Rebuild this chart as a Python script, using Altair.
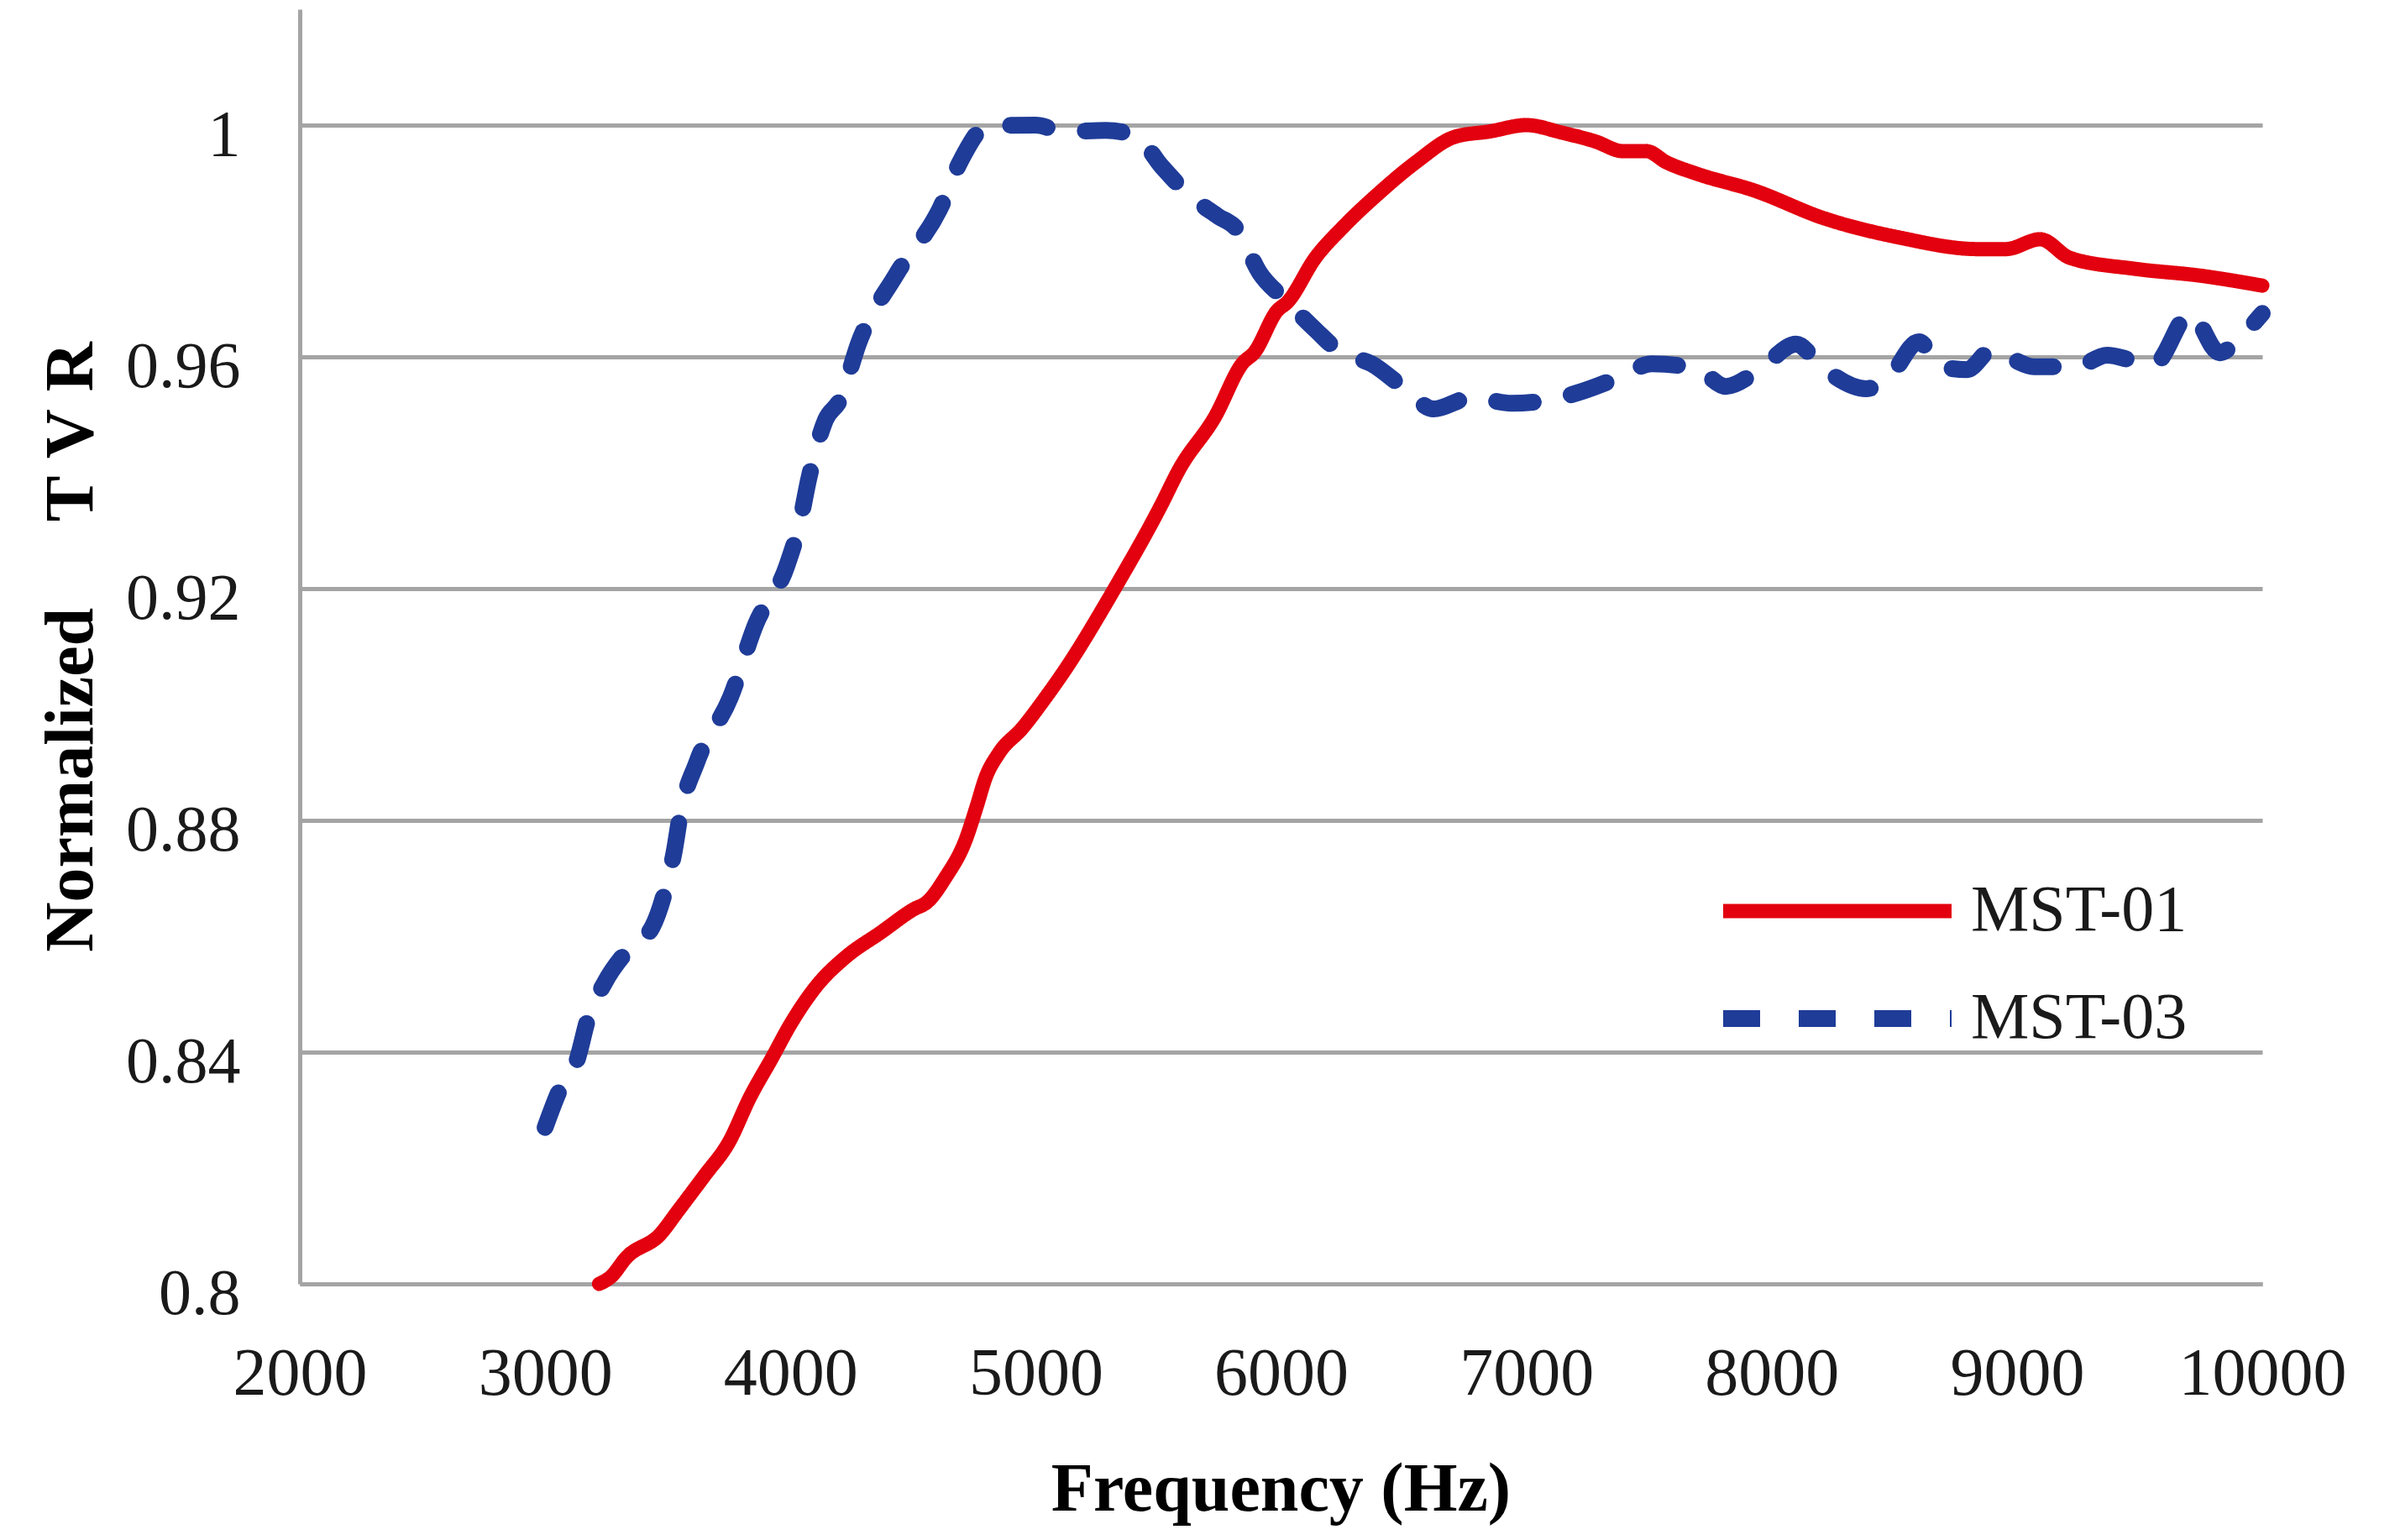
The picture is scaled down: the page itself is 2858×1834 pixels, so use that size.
import altair as alt
import pandas as pd

# ---- data ----
series_names = ["MST-01", "MST-03"]

mst01_freq = [3220, 3270, 3330, 3470, 3540, 3650, 3750, 3835, 3925, 4000, 4110, 4225,
              4370, 4500, 4560, 4630, 4715, 4760, 4795, 4850, 4945, 5035, 5115, 5320,
              5510, 5585, 5730, 5845, 5890, 5985, 6025, 6140, 6255, 6400, 6550, 6710,
              6850, 7000, 7145, 7280, 7395, 7490, 7570, 7695, 7930, 8215, 8520, 8840,
              8955, 9095, 9215, 9480, 9750, 10000]
mst01_tvr = [0.800, 0.8013, 0.8045, 0.8086, 0.8125, 0.8187, 0.8245, 0.8322, 0.839, 0.8448,
             0.8516, 0.8564, 0.8607, 0.8646, 0.866, 0.870, 0.8767, 0.8825, 0.8873, 0.8916,
             0.8959, 0.9009, 0.9057, 0.9199, 0.9343, 0.9406, 0.9496, 0.959, 0.9607, 0.968,
             0.9694, 0.9771, 0.9825, 0.9883, 0.9936, 0.998, 0.9989, 1.0, 0.9987, 0.9972,
             0.9955, 0.9955, 0.9936, 0.9916, 0.9887, 0.9839, 0.9806, 0.9786, 0.9786, 0.9803,
             0.9771, 0.9752, 0.974, 0.9723]

mst03_freq = [3000, 3065, 3130, 3175, 3243, 3335, 3438, 3490, 3527, 3551, 3619, 3756,
              3859, 3986, 4040, 4075, 4143, 4201, 4280, 4431, 4612, 4691, 4807, 5000,
              5115, 5286, 5410, 5513, 5629, 5742, 5821, 5913, 6016, 6142, 6245, 6369,
              6505, 6622, 6779, 6940, 7087, 7224, 7375, 7512, 7693, 7813, 7950, 8100,
              8203, 8385, 8477, 8600, 8693, 8796, 8898, 8977, 9069, 9240, 9367, 9480,
              9559, 9706, 9826, 9915, 10000]
mst03_tvr = [0.827, 0.834, 0.8386, 0.8458, 0.852, 0.8575, 0.8617, 0.868, 0.8748, 0.881,
             0.8901, 0.9013, 0.9139, 0.924, 0.9317, 0.939, 0.9491, 0.9525, 0.9626, 0.9742,
             0.9858, 0.9936, 0.9999, 1.0, 0.9989, 0.9991, 0.9981, 0.9929, 0.9878, 0.9843,
             0.982, 0.9745, 0.9699, 0.9646, 0.9607, 0.9588, 0.9545, 0.951, 0.953, 0.952,
             0.9525, 0.954, 0.9564, 0.9588, 0.958, 0.9549, 0.9578, 0.9622, 0.9583, 0.9545,
             0.9564, 0.9626, 0.9583, 0.9578, 0.9612, 0.9597, 0.9583, 0.9583, 0.9603, 0.9593,
             0.9588, 0.9675, 0.9607, 0.9636, 0.9675]

x_ticks = [2000, 3000, 4000, 5000, 6000, 7000, 8000, 9000, 10000]
y_ticks = [0.8, 0.84, 0.88, 0.92, 0.96, 1.0]

rows = []
for f, v in zip(mst01_freq, mst01_tvr):
    rows.append({"freq": f, "tvr": v, "series": "MST-01"})
for f, v in zip(mst03_freq, mst03_tvr):
    rows.append({"freq": f, "tvr": v, "series": "MST-03"})
df = pd.DataFrame(rows)

FONT = "Liberation Serif"
GRID = "#a4a4a4"
TXT = "#1a1a1a"

legend = alt.Legend(
    title=None, orient="none", legendX=1685, legendY=1010,
    symbolType="stroke", symbolSize=73984, symbolStrokeWidth=22,
    clipHeight=128, rowPadding=0, padding=0,
    labelFont=FONT, labelFontSize=78, labelColor=TXT, labelOffset=13, labelLimit=0,
)

chart = alt.Chart(df).mark_line(
    strokeCap="round", strokeJoin="round", interpolate="monotone"
).encode(
    x=alt.X(
        "freq:Q",
        scale=alt.Scale(domain=[2000, 10000], nice=False, zero=False),
        axis=alt.Axis(
            values=x_ticks, format="d", title="Frequency (Hz)", grid=False,
            ticks=False, tickSize=0, labelPadding=68, labelFlush=False, labelOverlap=False,
            labelLimit=0,
            labelFont=FONT, labelFontSize=80, labelColor=TXT,
            titleFont=FONT, titleFontSize=82, titleFontWeight="bold", titleColor="#000",
            titleX=1168, titleY=269, titleBaseline="alphabetic",
            domainColor=GRID, domainWidth=5,
        ),
    ),
    y=alt.Y(
        "tvr:Q",
        scale=alt.Scale(domain=[0.8, 1.02], nice=False, zero=False),
        axis=alt.Axis(
            values=y_ticks, format=".2~f",
            title="Normalized\u00a0\u00a0\u00a0\u00a0\u00a0T\u00a0V\u00a0R",
            grid=True, gridColor=GRID, gridWidth=5, gridOpacity=1,
            ticks=False, tickSize=0, labelPadding=71, labelOffset=12,
            labelFlush=False, labelOverlap=False, labelLimit=0,
            labelFont=FONT, labelFontSize=78, labelColor=TXT,
            titleFont=FONT, titleFontSize=82, titleFontWeight="bold", titleColor="#000",
            titleX=-248, titleY=759, titleAngle=270, titleAlign="center",
            titleBaseline="alphabetic",
            domainColor=GRID, domainWidth=5,
        ),
    ),
    color=alt.Color(
        "series:N",
        scale=alt.Scale(domain=series_names, range=["#E3000F", "#1F3C98"]),
        legend=legend,
    ),
    strokeDash=alt.StrokeDash(
        "series:N",
        scale=alt.Scale(domain=series_names, range=[[1, 0], [44, 46]]),
        legend=legend,
    ),
    strokeWidth=alt.StrokeWidth(
        "series:N",
        scale=alt.Scale(domain=series_names, range=[17, 20]),
        legend=None,
    ),
).properties(
    width=2337,
    height=1518,
    autosize=alt.AutoSizeParams(type="none"),
    padding={"left": 349, "top": 3, "right": 150, "bottom": 290},
).configure_view(stroke=None)

chart.save("out.html", embed_options={"renderer": "svg", "actions": False})
